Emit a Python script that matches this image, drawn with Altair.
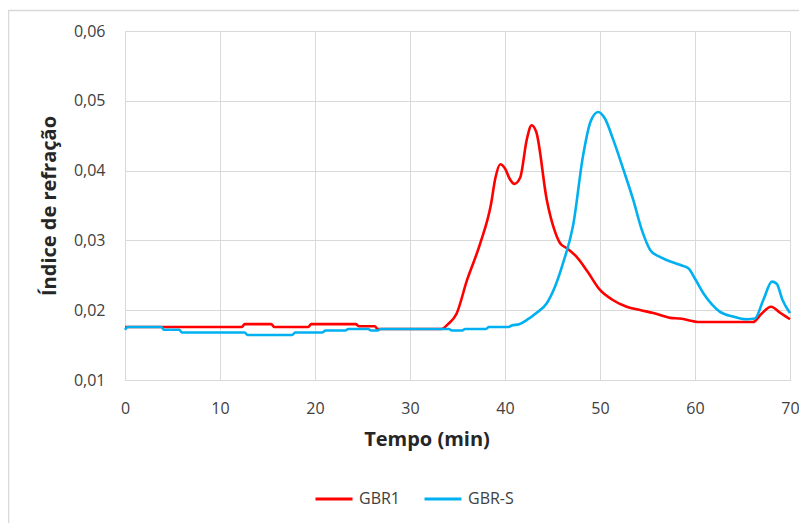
import altair as alt
import pandas as pd

gbr1_t = [0, 12.3, 12.6, 15.4, 15.7, 19.3, 19.6, 24.3, 24.6, 26.3, 26.6, 33.3, 34.0, 34.9,
          36.0, 37.4, 38.5, 39.0, 39.5, 40.0, 40.5, 41.0, 41.6, 42.3, 42.8, 43.3, 44.4, 45.2, 45.8, 46.6,
          47.5, 48.7, 50.0, 51.3, 52.8, 54.3, 55.6, 57.4, 58.4, 60.5, 63.0, 66.1, 67.0, 68.0,
          69.0, 70.0]
gbr1_v = [0.0176, 0.0176, 0.0180, 0.0180, 0.0176, 0.0176, 0.0180, 0.0180, 0.0177, 0.0177,
          0.0173, 0.0173, 0.0180, 0.0195, 0.0243, 0.0296, 0.0350, 0.0390, 0.0409, 0.0403, 0.0388,
          0.0381, 0.0390, 0.0445, 0.0465, 0.0455, 0.0358, 0.0315, 0.0296, 0.0288, 0.0277, 0.0255,
          0.0229, 0.0215, 0.0205, 0.0200, 0.0196, 0.0189, 0.0188, 0.0183, 0.0183, 0.0183,
          0.0195, 0.0205, 0.0196, 0.0187]

gbrs_t = [0, 0.3, 3.8, 4.1, 5.7, 6.0, 12.6, 12.9, 17.6, 17.9, 20.8, 21.1, 23.2, 23.5, 25.6,
          25.9, 26.6, 26.9, 34.1, 34.4, 35.5, 35.8, 38.0, 38.3, 40.4, 40.7, 41.5, 42.3, 43.3,
          44.4, 45.3, 46.1, 47.2, 48.2, 49.0, 49.8, 50.5, 51.4, 52.5, 53.5, 54.4, 55.3, 56.2,
          57.0, 58.4, 59.3, 60.0, 60.9, 61.8, 62.6, 64.0, 65.4, 66.3, 67.2, 68.1, 68.6, 69.2,
          70.0]
gbrs_v = [0.0172, 0.0176, 0.0176, 0.0172, 0.0172, 0.0168, 0.0168, 0.01645, 0.01645, 0.0168,
          0.0168, 0.0171, 0.0171, 0.0173, 0.0173, 0.0171, 0.0171, 0.0173, 0.0173, 0.0171,
          0.0171, 0.0173, 0.0173, 0.0176, 0.0176, 0.0178, 0.0180, 0.0186, 0.0196, 0.0210,
          0.0235, 0.0267, 0.0324, 0.0420, 0.0470, 0.0484, 0.0475, 0.0444, 0.0400, 0.0358,
          0.0315, 0.0286, 0.0277, 0.0272, 0.0265, 0.0260, 0.0245, 0.0224, 0.0208, 0.0198,
          0.0191, 0.0187, 0.0188, 0.0215, 0.0241, 0.0238, 0.0215, 0.0196]

series_names = ["GBR1", "GBR-S"]
series_colors = ["#FF0000", "#00B0F0"]
x_ticks = [0, 10, 20, 30, 40, 50, 60, 70]
y_ticks = [0.01, 0.02, 0.03, 0.04, 0.05, 0.06]

df = pd.concat([
    pd.DataFrame({"t": gbr1_t, "v": gbr1_v, "s": "GBR1", "o": range(len(gbr1_t))}),
    pd.DataFrame({"t": gbrs_t, "v": gbrs_v, "s": "GBR-S", "o": range(len(gbrs_t))}),
])

FONT = "Open Sans"
GRID = "#d9d9d9"
W, H = 665, 349
PL, PT = 117, 23

lines = alt.Chart(df).mark_line(strokeWidth=2.6, interpolate="monotone").encode(
    x=alt.X("t:Q", scale=alt.Scale(domain=[0, 70], nice=False),
            axis=alt.Axis(values=x_ticks, title="Tempo (min)", grid=True, gridColor=GRID,
                          domainColor=GRID, ticks=False, labelPadding=20, labelFontSize=16,
                          labelFlush=False,
                          labelColor="#404040", labelFont=FONT, titleFont=FONT,
                          titleFontSize=20, titleFontWeight="bold", titleColor="#262626",
                          titlePadding=13, titleX=W / 2 - 31, titleAlign="center")),
    y=alt.Y("v:Q", scale=alt.Scale(domain=[0.01, 0.06], nice=False, zero=False),
            axis=alt.Axis(values=y_ticks, title="Índice de refração", grid=True, gridColor=GRID,
                          domainColor=GRID, ticks=False, labelPadding=20, labelFontSize=16,
                          labelColor="#404040", labelFont=FONT, titleFont=FONT,
                          titleFontSize=20, titleFontWeight="bold", titleColor="#262626",
                          titlePadding=14,
                          labelExpr="replace(format(datum.value, '.2f'), '.', ',')")),
    color=alt.Color("s:N", scale=alt.Scale(domain=series_names, range=series_colors),
                    sort=series_names,
                    legend=alt.Legend(title=None, orient="none", direction="horizontal",
                                      legendX=189, legendY=448, symbolType="stroke",
                                      symbolSize=1369, symbolStrokeWidth=3,
                                      labelFont=FONT, labelFontSize=16, labelColor="#404040",
                                      columnPadding=18, labelOffset=5)),
    detail="s:N",
    order="o:Q",
)

border = alt.Chart(pd.DataFrame({"a": [0]})).mark_rect(
    fill="transparent", stroke=GRID, strokeWidth=1.5
).encode(
    x=alt.value(-PL + 0.5), x2=alt.value(W + 200), y=alt.value(-PT + 2.5), y2=alt.value(H + 300)
)

chart = alt.layer(border, lines).properties(
    width=W, height=H,
    autosize=alt.AutoSizeParams(type="none"),
    padding={"left": PL, "top": PT, "right": 9, "bottom": 143},
).configure_view(stroke=None)

chart.save("out.html", embed_options={"renderer": "svg", "actions": False})
